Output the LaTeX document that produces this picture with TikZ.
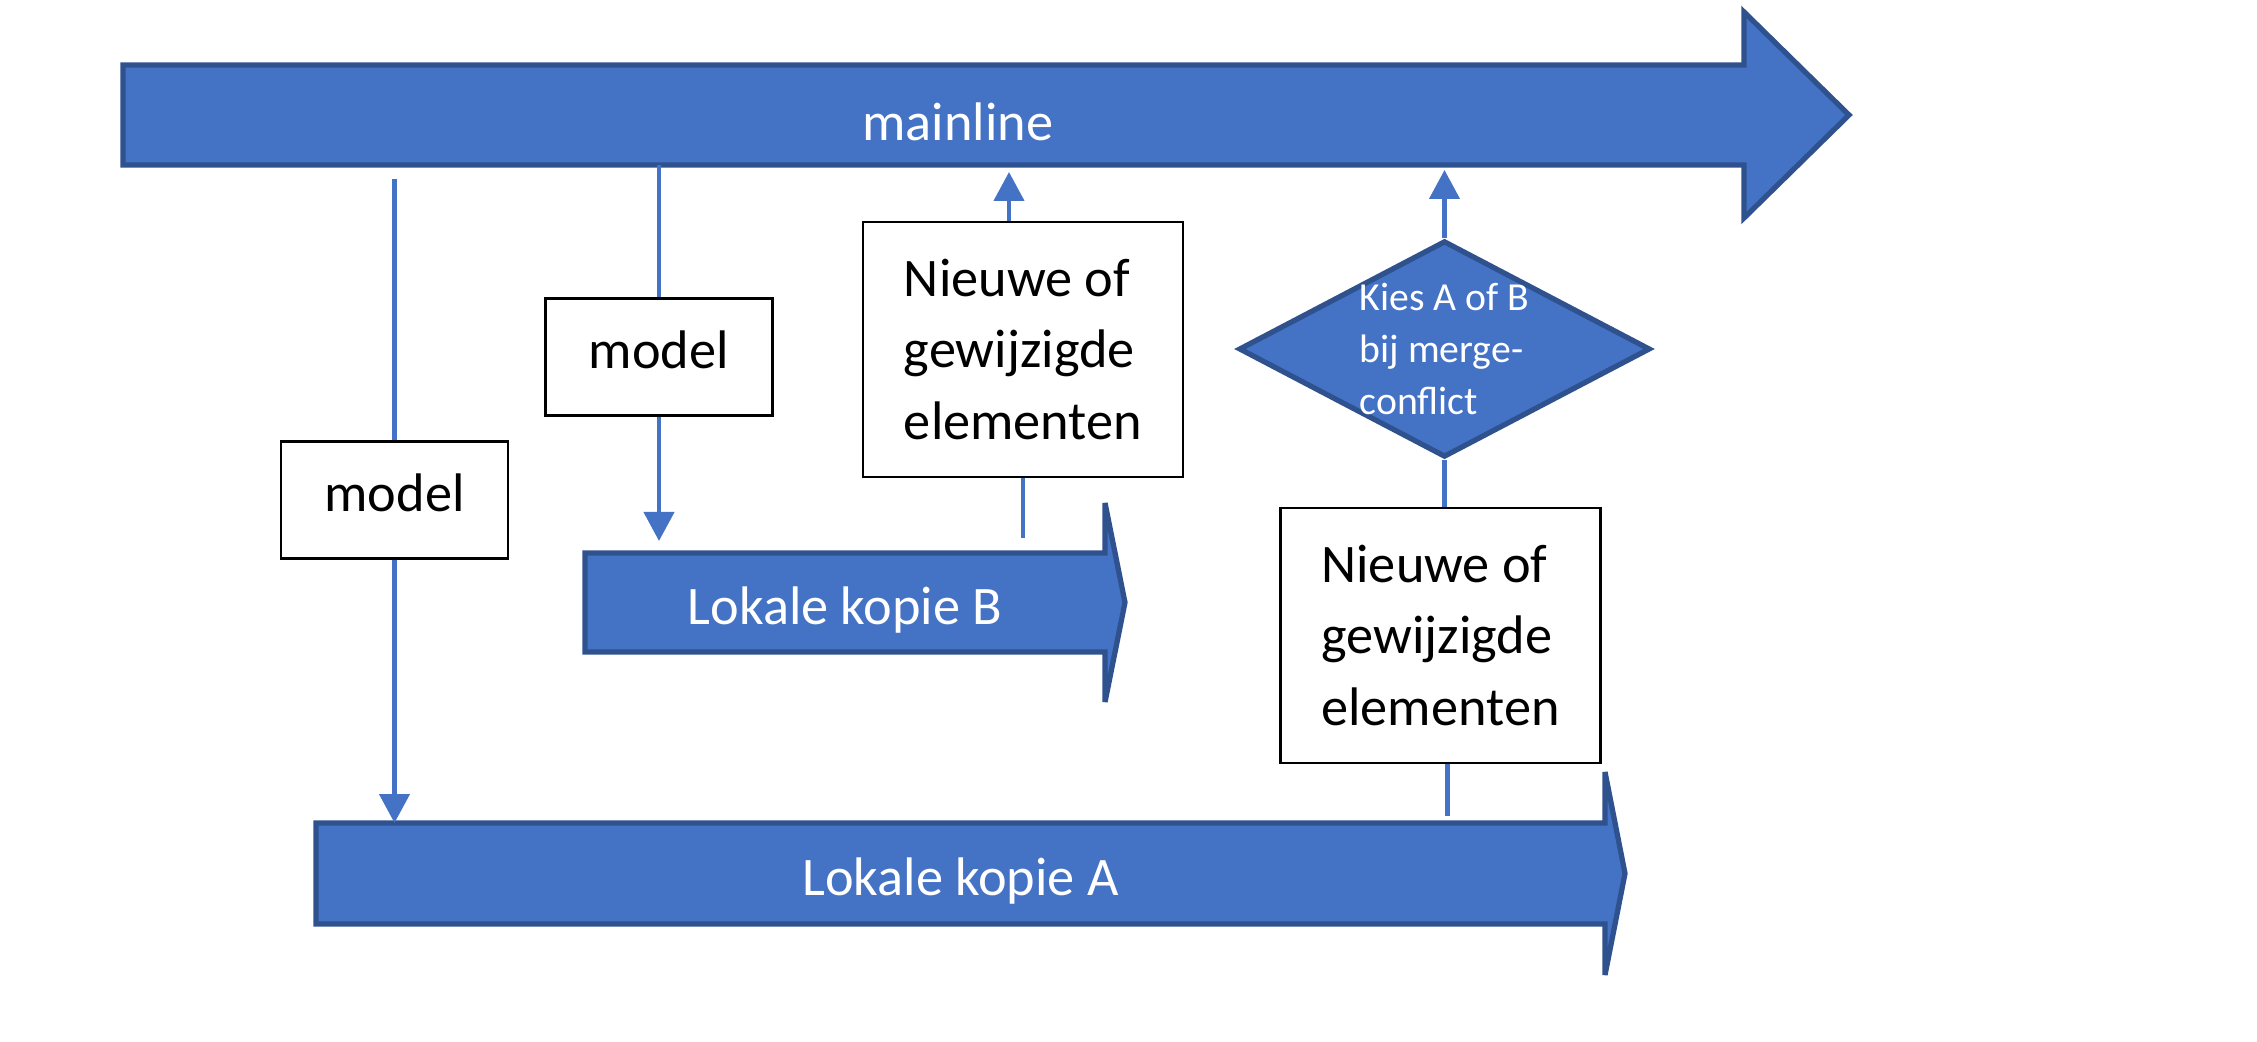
\documentclass[tikz,border=0pt]{standalone}
\usepackage{fontspec}
\setmainfont{Carlito}
\usetikzlibrary{
    shapes.geometric,
    arrows.meta,
    positioning,
    calc,
    backgrounds
}
\definecolor{officeblue}{HTML}{4472C4}
\definecolor{officeedge}{HTML}{2F528F}

\tikzset{
    shafttext/.style={text=white, font=\fontsize{15.45}{20.4}\selectfont, text height=12.24pt, text depth=0pt, inner sep=0pt},
    shaft/.style={shafttext, outer sep=0pt},
    bigarrow/.style={draw=officeedge, fill=officeblue, line width=1.5pt, line join=miter},
    textbox/.style={draw=black, fill=white, line width=0.75pt, font=\fontsize{15.45}{20.4}\selectfont, align=left, inner sep=0pt},
    modelbox/.style={textbox, minimum width=2.27cm, minimum height=1.17cm, text depth=4pt},
    changebox/.style={textbox, minimum width=3.2cm, minimum height=2.55cm},
    choice/.style={diamond, aspect=1.9, draw=officeedge, fill=officeblue, line width=1.5pt, text=white, font=\fontsize{11.3}{14.7}\selectfont, align=left, inner ysep=0pt, inner xsep=-1pt},
    link/.style={draw=officeblue, line width=1.33pt},
    linkarrow/.style={link, -{Triangle[length=8.25pt, width=8.5pt]}}
}

\begin{document}
\begin{tikzpicture}
    \useasboundingbox (0,0) rectangle (22.57,10.42);

    % Branch arrows (shafts)
    \node[shaft, minimum width=16.21cm, minimum height=1cm, label={[shafttext, xshift=0.245cm, yshift=-0.04cm]center:mainline}] (mainline) at (9.335, 9.27) {};
    \node[shaft, minimum width=5.2cm, minimum height=0.99cm] (kopieB) at (8.45, 4.395) {Lokale kopie B};
    \node[shaft, minimum width=12.89cm, minimum height=1.01cm] (kopieA) at (9.605, 1.685) {Lokale kopie A};

    % Arrow outlines behind the labels
    \begin{scope}[on background layer]
        \draw[bigarrow] (mainline.north west) -- (mainline.north east) -- ++(0,0.53)
            -- ($(mainline.east)+(1.05,0)$) -- ($(mainline.south east)+(0,-0.53)$)
            -- (mainline.south east) -- (mainline.south west) -- cycle;
        \draw[bigarrow] (kopieB.north west) -- (kopieB.north east) -- ++(0,0.5)
            -- ($(kopieB.east)+(0.2,0)$) -- ($(kopieB.south east)+(0,-0.5)$)
            -- (kopieB.south east) -- (kopieB.south west) -- cycle;
        \draw[bigarrow] (kopieA.north west) -- (kopieA.north east) -- ++(0,0.51)
            -- ($(kopieA.east)+(0.2,0)$) -- ($(kopieA.south east)+(0,-0.51)$)
            -- (kopieA.south east) -- (kopieA.south west) -- cycle;
    \end{scope}

    % Boxes
    \node[modelbox] (modelA) at (3.945, 5.42) {model};
    \node[modelbox] (modelB) at (6.59, 6.85) {model};
    \node[changebox] (changesB) at (10.23, 6.925) {Nieuwe of\\gewijzigde\\elementen};
    \node[changebox] (changesA) at (14.405, 4.065) {Nieuwe of\\gewijzigde\\elementen};

    % Merge decision
    \node[choice] (choice) at (14.445, 6.93) {Kies A of B\\bij merge-\\conflict};

    % Checkout A
    \coordinate (startA) at (3.945, 8.63);
    \draw[link] (startA) -- (modelA);
    \draw[linkarrow] (modelA) -- (modelA |- kopieA.north);

    % Checkout B
    \draw[link] (mainline.south -| modelB) -- (modelB);
    \draw[linkarrow] (modelB) -- ([yshift=0.12cm]modelB |- kopieB.north);

    % Commit B
    \coordinate (fromB) at ($(kopieB.north -| changesB)+(0,0.15)$);
    \coordinate (tipB) at ($(mainline.south -| changesB)+(-0.14,-0.07)$);
    \draw[link] (fromB) -- (changesB);
    \draw[linkarrow] (changesB.north -| tipB) -- (tipB);

    % Commit A via merge
    \coordinate (fromA) at ($(kopieA.north -| choice)+(0.03,0.07)$);
    \draw[link] (fromA) -- (fromA |- changesA.south);
    \draw[link] (changesA.north -| choice.south) -- (choice.south);
    \draw[linkarrow] (choice.north) -- ($(mainline.south -| choice)+(0,-0.05)$);
\end{tikzpicture}
\end{document}
